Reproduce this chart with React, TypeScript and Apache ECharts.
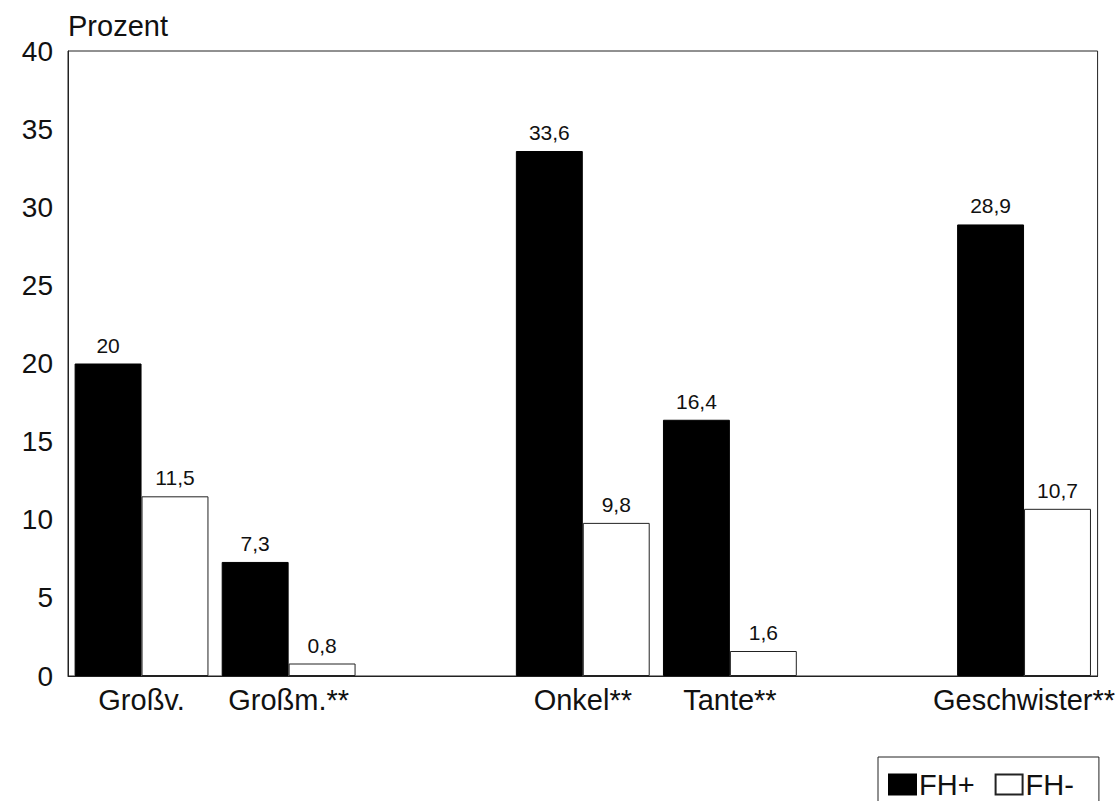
import React, { useEffect, useRef } from "react";
import * as echarts from "echarts";

const categories = ["Großv.", "Großm.**", "", "Onkel**", "Tante**", "", "Geschwister**"];
const fhPlus: (number | null)[] = [20, 7.3, null, 33.6, 16.4, null, 28.9];
const fhMinus: (number | null)[] = [11.5, 0.8, null, 9.8, 1.6, null, 10.7];
const seriesNames = ["FH+", "FH-"];
const yMin = 0;
const yMax = 40;
const yInterval = 5;

const FONT = "'Liberation Sans', Arial, sans-serif";

export default function App() {
  const ref = useRef<HTMLDivElement>(null);
  useEffect(() => {
    if (!ref.current) return;
    const chart = echarts.init(ref.current, undefined, { renderer: "svg" });
    const label = {
      show: true,
      position: "top",
      distance: 8,
      color: "#111",
      fontFamily: FONT,
      fontSize: 21,
      formatter: (p: any) => String(p.value).replace(".", ","),
    };
    chart.setOption({
      animation: false,
      backgroundColor: "#fff",
      textStyle: { fontFamily: FONT, color: "#111" },
      grid: {
        left: 68,
        right: 19,
        top: 51,
        bottom: 125,
        show: true,
        borderColor: "#222",
        borderWidth: 1,
        containLabel: false,
      },
      legend: {
        left: 878,
        top: 757,
        orient: "horizontal",
        itemWidth: 27,
        itemHeight: 20,
        itemGap: 20,
        padding: [13, 25, 16, 10],
        borderColor: "#222",
        borderWidth: 1,
        borderRadius: 0,
        icon: "rect",
        textStyle: { fontFamily: FONT, fontSize: 29, color: "#111", padding: [0, 0, 0, -2] },
        data: seriesNames,
      },
      xAxis: {
        type: "category",
        data: categories,
        axisLine: { show: true, lineStyle: { color: "#222", width: 1 } },
        axisTick: { show: false },
        axisLabel: { fontFamily: FONT, fontSize: 29, color: "#111", margin: 9, interval: 0 },
      },
      yAxis: {
        type: "value",
        min: yMin,
        max: yMax,
        interval: yInterval,
        name: "Prozent",
        nameLocation: "end",
        nameGap: 11,
        nameTextStyle: { fontFamily: FONT, fontSize: 29, color: "#111", align: "left" },
        axisLine: { show: true, lineStyle: { color: "#222", width: 1 } },
        axisTick: { show: false },
        splitLine: { show: false },
        axisLabel: { fontFamily: FONT, fontSize: 28, color: "#111", margin: 15 },
      },
      series: [
        {
          name: seriesNames[0],
          type: "bar",
          data: fhPlus,
          barGap: "0%",
          barCategoryGap: "9%",
          itemStyle: { color: "#000", borderColor: "#000", borderWidth: 1 },
          label,
        },
        {
          name: seriesNames[1],
          type: "bar",
          data: fhMinus,
          barGap: "0%",
          barCategoryGap: "9%",
          itemStyle: { color: "#fff", borderColor: "#222", borderWidth: 1 },
          label,
        },
      ],
    });
    return () => chart.dispose();
  }, []);
  return (
    <div
      ref={ref}
      style={{ position: "fixed", left: 0, top: 0, width: 1118, height: 801, background: "#fff" }}
    />
  );
}
